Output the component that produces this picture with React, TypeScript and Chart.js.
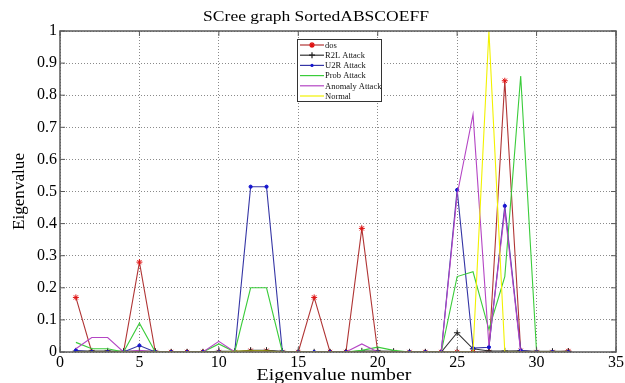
import { useEffect, useRef } from "react";
import { Chart, registerables } from "chart.js";

Chart.register(...registerables);

const chartTitle = "SCree graph SortedABSCOEFF";
const xAxisTitle = "Eigenvalue number";
const yAxisTitle = "Eigenvalue";

const eigenNumbers = [1, 2, 3, 4, 5, 6, 7, 8, 9, 10, 11, 12, 13, 14, 15, 16, 17, 18, 19, 20, 21, 22, 23, 24, 25, 26, 27, 28, 29, 30, 31, 32];

const dosValues = [0.17, 0, 0, 0, 0.28, 0, 0, 0, 0, 0, 0, 0.004, 0.004, 0, 0, 0.17, 0, 0, 0.385, 0, 0, 0, 0, 0, 0, 0, 0, 0.845, 0.004, 0, 0, 0.003];
const r2lValues = [0.003, 0.003, 0.003, 0.002, 0.003, 0.002, 0, 0, 0, 0.002, 0.002, 0.005, 0.005, 0.002, 0, 0, 0, 0, 0.003, 0.003, 0.002, 0, 0, 0, 0.06, 0.01, 0.003, 0.003, 0.004, 0.002, 0.002, 0.002];
const u2rValues = [0.005, 0, 0, 0, 0.02, 0, 0, 0, 0, 0, 0, 0.515, 0.515, 0, 0, 0, 0, 0, 0, 0, 0, 0, 0, 0, 0.505, 0.012, 0.015, 0.455, 0.005, 0, 0, 0];
const probValues = [0.03, 0.01, 0.01, 0, 0.09, 0, 0, 0, 0, 0.025, 0, 0.2, 0.2, 0, 0, 0, 0, 0, 0.005, 0.015, 0.005, 0, 0, 0, 0.235, 0.25, 0.07, 0.235, 0.86, 0, 0, 0];
const anomalyValues = [0.01, 0.045, 0.045, 0, 0.005, 0, 0, 0, 0, 0.033, 0, 0, 0, 0, 0, 0, 0, 0, 0.025, 0, 0, 0, 0, 0, 0.49, 0.74, 0.02, 0.44, 0, 0, 0, 0];
const normalValues = [0, 0, 0, 0, 0, 0, 0, 0, 0, 0, 0.002, 0.003, 0.003, 0, 0, 0, 0, 0, 0, 0, 0, 0, 0, 0, 0, 0, 1.0, 0, 0, 0, 0, 0];

const xTickLabels = ["0", "5", "10", "15", "20", "25", "30", "35"];
const yTickLabels = ["0", "0.1", "0.2", "0.3", "0.4", "0.5", "0.6", "0.7", "0.8", "0.9", "1"];

const seriesNames = ["dos", "R2L Attack", "U2R Attack", "Prob Attack", "Anomaly Attack", "Normal"];
const seriesValues = [dosValues, r2lValues, u2rValues, probValues, anomalyValues, normalValues];
const lineColors = ["#b03535", "#333333", "#3535a5", "#3acc3a", "#b445c4", "#f2f200"];
const markerColors = ["#e01010", "#222222", "#1515d0", "", "", ""];
const markerStyles: any[] = ["star", "cross", "circle", false, false, false];
const markerRadii = [3, 3.2, 1.6, 0, 0, 0];

const FONT = "'Liberation Serif', 'Times New Roman', serif";

function stretchedText(ctx: any, text: string, x: number, y: number, sx: number) {
  ctx.save();
  ctx.translate(x, y);
  ctx.scale(sx, 1);
  ctx.fillText(text, 0, 0);
  ctx.restore();
}

const overlayPlugin = {
  id: "matlabOverlay",
  afterDraw(chart: any) {
    const ctx = chart.ctx;
    const a = chart.chartArea;
    const xs = chart.scales.x;
    const ys = chart.scales.y;
    ctx.save();
    // frame
    ctx.strokeStyle = "#5a5a5a";
    ctx.lineWidth = 1.5;
    ctx.strokeRect(a.left, a.top, a.right - a.left, a.bottom - a.top);
    // inward ticks
    ctx.lineWidth = 1;
    ctx.beginPath();
    xs.ticks.forEach((t: any) => {
      const px = xs.getPixelForValue(t.value);
      ctx.moveTo(px, a.bottom);
      ctx.lineTo(px, a.bottom - 5);
      ctx.moveTo(px, a.top);
      ctx.lineTo(px, a.top + 5);
    });
    ys.ticks.forEach((t: any) => {
      const py = ys.getPixelForValue(t.value);
      ctx.moveTo(a.left, py);
      ctx.lineTo(a.left + 5, py);
      ctx.moveTo(a.right, py);
      ctx.lineTo(a.right - 5, py);
    });
    ctx.stroke();

    // titles
    ctx.fillStyle = "#000";
    ctx.textAlign = "center";
    ctx.textBaseline = "alphabetic";
    ctx.font = `15.5px ${FONT}`;
    stretchedText(ctx, chartTitle, 316, 20.5, 1.13);
    ctx.font = `16px ${FONT}`;
    stretchedText(ctx, xAxisTitle, 334, 379.5, 1.24);
    ctx.save();
    ctx.translate(24, (a.top + a.bottom) / 2);
    ctx.rotate(-Math.PI / 2);
    ctx.scale(1.07, 1);
    ctx.fillText(yAxisTitle, 0, 0);
    ctx.restore();

    // legend
    const lx = 297, ly = 39, lw = 84, lh = 62;
    ctx.fillStyle = "#fff";
    ctx.fillRect(lx, ly, lw, lh);
    ctx.strokeStyle = "#333";
    ctx.lineWidth = 1;
    ctx.strokeRect(lx + 0.5, ly + 0.5, lw, lh);
    ctx.font = `8.5px ${FONT}`;
    ctx.textAlign = "left";
    ctx.textBaseline = "middle";
    seriesNames.forEach((name, i) => {
      const y = ly + 6 + i * 10.2;
      ctx.strokeStyle = lineColors[i];
      ctx.lineWidth = 1.2;
      ctx.beginPath();
      ctx.moveTo(lx + 3, y);
      ctx.lineTo(lx + 27, y);
      ctx.stroke();
      if (markerStyles[i]) {
        const mx = lx + 15;
        ctx.strokeStyle = markerColors[i];
        ctx.fillStyle = markerColors[i];
        if (markerStyles[i] === "circle") {
          ctx.beginPath();
          ctx.arc(mx, y, 1.6, 0, Math.PI * 2);
          ctx.fill();
        } else {
          ctx.beginPath();
          ctx.moveTo(mx - 3, y);
          ctx.lineTo(mx + 3, y);
          ctx.moveTo(mx, y - 3);
          ctx.lineTo(mx, y + 3);
          if (markerStyles[i] === "star") {
            ctx.moveTo(mx - 2, y - 2);
            ctx.lineTo(mx + 2, y + 2);
            ctx.moveTo(mx - 2, y + 2);
            ctx.lineTo(mx + 2, y - 2);
          }
          ctx.stroke();
        }
      }
      ctx.fillStyle = "#111";
      ctx.fillText(name, lx + 28, y + 0.5);
    });
    ctx.restore();
  },
};

export default function App() {
  const canvasRef = useRef<HTMLCanvasElement | null>(null);

  useEffect(() => {
    const canvas = canvasRef.current;
    if (!canvas) return;
    const datasets = seriesNames.map((name, i) => ({
      label: name,
      data: eigenNumbers.map((n, k) => ({ x: n, y: seriesValues[i][k] })),
      borderColor: lineColors[i],
      backgroundColor: lineColors[i],
      borderWidth: 1.1,
      pointStyle: markerStyles[i],
      pointRadius: markerRadii[i],
      pointBorderColor: markerColors[i] || lineColors[i],
      pointBackgroundColor: markerColors[i] || lineColors[i],
      pointBorderWidth: 1,
      tension: 0,
      fill: false,
      order: seriesNames.length - i,
    }));

    const chart = new Chart(canvas, {
      type: "line",
      data: { datasets },
      options: {
        animation: false,
        responsive: false,
        maintainAspectRatio: false,
        layout: { padding: { top: 31, right: 8, left: 0, bottom: 0 } },
        plugins: { legend: { display: false }, tooltip: { enabled: false }, title: { display: false } },
        scales: {
          x: {
            type: "linear",
            min: 0,
            max: 35,
            afterFit: (s: any) => { s.height = 31; },
            afterBuildTicks: (s: any) => {
              s.ticks = xTickLabels.map((l) => ({ value: Number(l) }));
            },
            ticks: {
              color: "#000",
              font: { family: FONT, size: 16 },
              padding: 1,
              maxRotation: 0,
              autoSkip: false,
              callback: (v: any) => String(v),
            },
            grid: { color: "#8a8a8a", lineWidth: 1, drawTicks: false },
            border: { display: false, dash: [1, 2] },
          },
          y: {
            type: "linear",
            min: 0,
            max: 1,
            afterFit: (s: any) => { s.width = 60; },
            afterBuildTicks: (s: any) => {
              s.ticks = yTickLabels.map((l) => ({ value: Number(l) }));
            },
            ticks: {
              color: "#000",
              font: { family: FONT, size: 16 },
              padding: 3,
              autoSkip: false,
              callback: (v: any) => String(Math.round(v * 10) / 10),
            },
            grid: { color: "#8a8a8a", lineWidth: 1, drawTicks: false },
            border: { display: false, dash: [1, 2] },
          },
        },
      },
      plugins: [overlayPlugin],
    } as any);
    return () => chart.destroy();
  }, []);

  return (
    <div style={{ position: "fixed", left: 0, top: 0, width: 625, height: 383, background: "#fff" }}>
      <canvas ref={canvasRef} width={625} height={383} style={{ width: 625, height: 383 }} />
    </div>
  );
}
